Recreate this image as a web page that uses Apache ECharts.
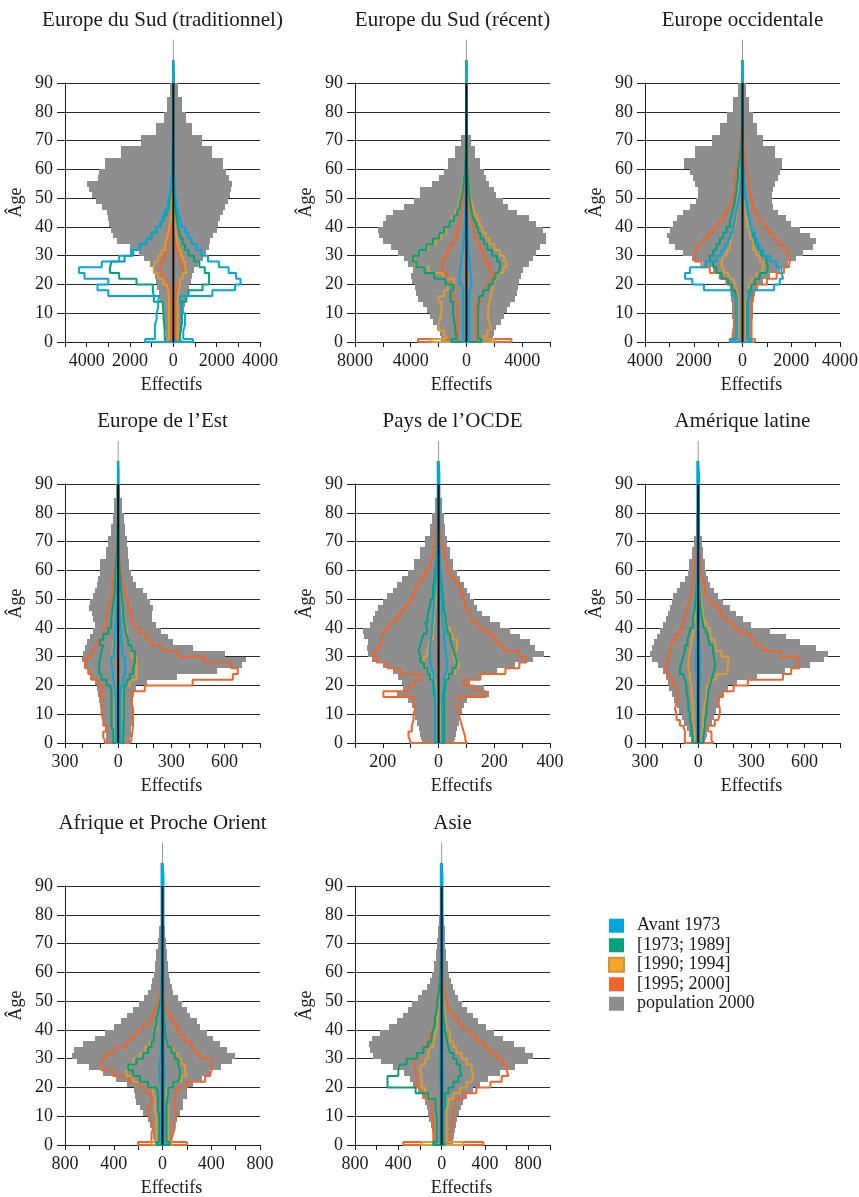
<!DOCTYPE html>
<html><head><meta charset="utf-8">
<script src="https://cdn.jsdelivr.net/npm/echarts@6/dist/echarts.min.js"></script>
<style>html,body{margin:0;padding:0;background:#fff}#c{width:859px;height:1197px}</style>
</head><body><div id="c"></div>
<script>
// ---- age bins (edges, years) ----
const ageEdges = [0,1,2,4,6,8,10,12,14,16,18,20,22,24,26,28,30,32,34,36,38,40,42,44,46,48,50,52,54,56,58,60,64,68,72,76,80,85,90,94,98];

const seriesNames = ['Avant 1973','[1973; 1989]','[1990; 1994]','[1995; 2000]','population 2000'];
const panelTitles = ['Europe du Sud (traditionnel)','Europe du Sud (récent)','Europe occidentale','Europe de l\u2019Est','Pays de l\u2019OCDE','Amérique latine','Afrique et Proche Orient','Asie'];
// x axis: [min, max, tick interval, label every]
const xAxisTicks = [[-5000,4000,1000,2000],[-8000,6000,2000,4000],[-4000,4000,1000,2000],[-300,800,100,300],[-300,400,100,200],[-300,800,100,300],[-800,800,200,400],[-800,1000,200,400]];

// ---- Panel 1 : Europe du Sud (traditionnel) ----
const p1PopL = [300,320,350,380,420,450,480,530,600,660,740,800,850,920,1100,1350,1600,2000,2600,2800,2900,2950,3000,3050,3300,3550,3750,3900,4000,3500,3450,3150,2400,1500,800,450,280,170,60,20];
const p1PopR = [320,330,360,400,430,460,490,540,600,660,740,800,860,950,1150,1350,1500,1650,1700,1850,2000,2050,2150,2300,2400,2500,2600,2650,2700,2550,2450,2300,1800,1300,850,600,420,200,80,20];
const p1AvL = [1300,850,850,850,770,770,700,700,650,3000,3500,3000,4100,4350,3300,2500,1950,1550,1250,1000,780,620,500,400,260,200,150,120,100,80,60,50,40,30,20,15,10,10,10,10];
const p1AvR = [900,460,460,460,540,540,400,380,300,1800,2850,3100,2900,2550,2100,1600,1300,1080,850,690,540,400,320,260,180,150,100,80,60,50,40,30,25,20,15,10,10,10,10,10];
const p1G1L = [380,400,400,420,450,460,480,500,900,950,950,1700,2500,2920,2850,2250,1850,1550,1250,1000,780,600,450,320,220,170,120,90,70,50,40,30,20,10,5,0,0,0,0,0];
const p1G1R = [380,300,300,350,380,380,380,380,600,700,1350,1650,1650,1450,1200,950,700,540,430,330,280,220,180,140,110,90,70,50,40,30,25,20,10,5,0,0,0,0,0,0];
const p1G2L = [300,200,200,200,200,200,200,200,220,250,300,460,700,900,850,700,540,380,300,230,180,120,100,80,60,50,40,30,25,20,20,15,10,10,5,5,0,0,0,0];
const p1G2R = [300,200,200,200,200,200,200,200,200,220,250,300,450,620,550,450,350,250,200,150,120,80,60,50,40,30,25,20,20,15,15,10,10,5,5,0,0,0,0,0];
const p1G3L = [200,130,130,130,130,130,130,130,130,150,180,300,480,600,550,450,350,250,180,150,120,80,60,50,40,30,25,20,15,15,10,10,5,5,0,0,0,0,0,0];
const p1G3R = [200,120,120,120,120,120,120,120,120,140,180,280,400,470,420,330,250,170,130,100,80,50,40,30,25,20,15,15,10,10,10,5,5,0,0,0,0,0,0,0];

// ---- Panel 2 : Europe du Sud (récent) ----
const p2PopL = [1800,1850,1900,2100,2400,2650,2850,3100,3500,3650,3700,3900,3950,3850,4200,4500,4900,5400,6000,6300,6350,6000,5750,5300,4500,3800,3350,3300,2500,2000,1600,1300,800,400,100,50,30,20,10,5];
const p2PopR = [1850,1900,1950,2150,2450,2700,2900,3100,3500,3650,3700,3800,3900,4050,4500,4800,5000,5300,5700,5700,5500,5000,4500,3600,3000,2600,2150,2000,1600,1400,1250,1000,650,350,100,50,30,20,10,5];
const p2AvL = [200,240,240,240,240,240,240,240,240,240,300,480,500,420,360,340,250,200,170,140,120,100,90,80,70,60,50,40,35,30,25,20,15,10,10,10,10,10,10,10];
const p2AvR = [200,190,190,190,190,190,190,190,190,190,250,360,360,300,240,240,160,130,120,100,90,80,70,60,50,45,40,35,30,25,20,15,12,10,10,10,10,10,10,10];
const p2G1L = [1080,720,800,840,900,960,960,960,1150,1150,960,1500,2300,3000,3600,3830,3400,2870,2400,1950,1600,1200,900,650,480,360,290,230,180,140,110,80,50,25,12,6,0,0,0,0];
const p2G1R = [1080,840,840,840,840,840,840,840,900,1200,1600,1900,2100,2300,2400,2200,1850,1500,1250,1000,850,700,550,430,350,290,240,200,160,130,100,70,40,20,10,5,0,0,0,0];
const p2G2L = [2500,1440,1600,2000,1900,1800,1800,1800,2000,1600,1350,900,1700,2700,3700,3830,3350,2750,2200,1800,1450,1200,1000,780,560,450,360,300,230,180,140,100,60,30,15,8,0,0,0,0];
const p2G2R = [2000,1200,1500,1750,1700,1560,1560,1560,1650,1750,1850,1950,2200,2650,2870,2700,2400,2000,1650,1400,1150,960,800,650,530,400,300,240,190,150,120,80,50,30,15,8,0,0,0,0];
const p2G3L = [3470,650,650,650,650,650,650,650,1000,900,900,1150,1400,1700,1800,1600,1350,1150,900,700,580,480,400,330,280,220,170,140,110,90,70,50,30,20,10,5,0,0,0,0];
const p2G3R = [3230,700,700,700,700,700,700,700,1000,1200,1450,1700,1900,1750,1600,1350,1200,1000,850,700,600,480,400,320,270,220,170,140,110,90,70,50,30,20,10,5,0,0,0,0];

// ---- Panel 3 : Europe occidentale ----
const p3PopL = [380,380,380,390,400,420,440,450,460,480,520,660,930,1200,1610,2090,2430,2770,3030,3110,2980,2840,2700,2430,2160,1890,1820,1820,1950,2050,2160,2400,1950,1260,930,640,400,200,60,15];
const p3PopR = [370,370,370,380,400,420,440,440,460,500,570,850,1120,1530,1870,2210,2490,2900,3030,2760,2350,2010,1800,1460,1260,1190,1190,1260,1330,1460,1550,1600,1320,850,600,420,280,150,60,15];
const p3AvL = [480,250,250,250,250,250,250,250,250,450,1580,2060,2360,2150,1500,1070,860,720,590,490,380,320,290,250,180,160,110,100,80,70,60,40,30,20,15,10,10,10,10,10];
const p3AvR = [370,230,230,230,230,230,230,230,230,370,1300,1530,1670,1600,1390,1120,850,710,600,510,410,340,300,250,190,160,120,100,80,60,50,30,25,20,15,10,10,10,10,10];
const p3G1L = [380,250,250,250,250,250,250,250,250,320,450,590,860,1070,1200,1340,1200,1070,930,790,660,520,450,410,330,310,250,250,200,180,180,110,60,30,15,8,0,0,0,0];
const p3G1R = [300,190,190,190,190,190,190,190,190,250,350,510,710,980,1050,980,780,640,550,480,400,330,300,250,190,190,120,120,90,70,70,40,25,12,6,3,0,0,0,0];
const p3G2L = [250,180,180,180,180,180,180,180,180,220,300,380,590,770,860,790,660,520,460,380,350,270,250,230,200,190,140,140,120,110,100,60,35,20,10,5,0,0,0,0];
const p3G2R = [160,140,140,140,140,140,140,140,140,200,270,370,570,780,850,710,570,440,440,300,300,200,200,150,130,130,90,90,70,60,50,30,20,10,5,3,0,0,0,0];
const p3G3L = [520,410,380,340,340,340,310,310,310,380,450,660,930,1340,1680,1950,1890,1820,1610,1410,1200,1000,790,660,520,420,340,340,300,290,280,180,110,60,30,15,5,0,0,0];
const p3G3R = [510,370,370,370,370,370,370,370,370,450,600,1000,1400,1700,1900,1940,1870,1670,1460,1260,1050,850,680,550,450,410,300,300,250,230,230,150,90,50,25,10,5,0,0,0];

// ---- Panel 4 : Europe de l'Est ----
const p4PopL = [66,66,68,72,78,85,94,100,110,115,122,131,160,169,190,206,197,190,178,160,140,130,140,150,163,160,140,130,122,112,105,100,70,56,42,32,22,12,5,2];
const p4PopR = [66,66,70,75,78,80,84,84,84,90,103,160,330,560,700,720,600,420,310,280,244,216,190,190,197,178,160,140,103,84,70,60,53,47,38,30,22,12,5,2];
const p4AvL = [13,13,13,13,13,13,13,13,15,18,20,28,28,35,38,38,25,22,22,20,18,12,12,10,10,8,6,6,5,5,4,3,3,2,2,2,2,2,2,2];
const p4AvR = [13,13,13,13,13,13,13,13,13,14,16,28,28,38,38,38,25,22,20,18,15,12,12,10,10,8,6,6,5,5,4,3,3,2,2,2,2,2,2,2];
const p4G1L = [28,28,28,38,38,38,38,38,38,38,45,66,94,107,107,100,94,84,103,84,56,40,38,35,28,25,19,19,17,15,15,10,6,4,2,1,0,0,0,0];
const p4G1R = [28,28,28,30,30,32,32,32,32,32,35,47,66,84,84,94,94,75,56,56,45,40,32,28,28,25,20,18,15,12,12,8,5,3,2,1,0,0,0,0];
const p4G2L = [19,19,19,19,19,19,19,19,19,19,19,28,28,38,38,38,32,32,25,22,20,15,12,12,10,10,8,8,6,5,5,4,3,2,1,0,0,0,0,0];
const p4G2R = [19,19,19,19,19,19,19,19,19,19,19,66,103,103,103,103,75,75,56,56,50,38,30,25,20,18,15,12,10,8,8,5,3,2,1,0,0,0,0,0];
const p4G3L = [75,84,84,66,84,94,94,94,84,103,84,112,150,169,187,178,150,131,112,84,84,66,66,56,47,47,32,32,28,24,24,13,10,6,4,2,0,0,0,0];
const p4G3R = [66,75,75,80,84,84,84,84,75,75,150,420,647,675,638,490,338,250,190,160,122,94,75,75,56,56,38,38,30,24,20,13,8,5,3,2,0,0,0,0];

// ---- Panel 5 : Pays de l'OCDE ----
const p5PopL = [60,62,66,70,78,84,90,96,108,150,126,130,145,165,200,240,255,257,252,268,270,245,234,228,216,198,186,165,150,132,110,90,66,48,32,22,14,7,3,1];
const p5PopR = [55,58,62,66,72,78,84,90,102,180,162,114,150,210,275,340,377,345,329,293,258,222,186,156,138,126,114,102,90,78,66,50,40,30,24,18,12,6,3,1];
const p5AvL = [12,12,12,12,12,12,12,12,12,12,15,18,18,25,30,30,30,30,28,24,24,22,20,18,16,16,14,12,10,8,8,6,5,4,3,3,3,3,3,3];
const p5AvR = [12,12,12,12,12,12,12,12,12,12,15,18,18,25,30,30,28,25,22,20,20,18,16,14,12,12,10,10,8,7,6,5,4,3,3,3,3,3,3,3];
const p5G1L = [12,12,12,12,12,12,12,12,15,18,18,20,30,40,52,65,72,66,60,54,42,48,40,36,30,28,20,20,16,14,12,8,5,3,2,1,0,0,0,0];
const p5G1R = [20,20,20,20,20,20,20,20,20,20,20,25,36,50,62,66,60,55,48,42,34,30,26,24,20,18,16,14,12,10,8,6,4,2,1,0,0,0,0,0];
const p5G2L = [6,6,6,6,6,6,6,6,8,10,10,12,24,40,50,54,42,36,30,20,20,16,16,14,10,10,8,8,6,5,4,3,2,1,0,0,0,0,0,0];
const p5G2R = [8,8,8,8,8,8,8,8,10,12,12,18,30,60,72,60,54,66,66,50,42,28,24,20,15,12,10,10,8,6,5,4,2,1,0,0,0,0,0,0];
const p5G3L = [102,108,108,96,90,90,84,88,90,198,108,84,60,138,183,222,234,215,204,198,192,174,150,138,120,102,92,84,72,60,48,30,20,12,8,5,3,0,0,0];
const p5G3R = [102,96,96,90,84,78,72,66,72,170,126,90,150,240,290,315,290,234,216,198,168,144,120,114,102,96,90,80,72,54,42,30,20,12,8,5,3,0,0,0];

// ---- Panel 6 : Amérique latine ----
const p6PopL = [38,42,50,62,78,94,110,122,135,150,165,172,183,197,225,258,270,258,250,235,215,197,180,169,160,150,140,122,103,75,60,50,36,24,14,10,6,3,1,1];
const p6PopR = [38,42,50,62,78,90,103,115,125,140,169,220,330,490,630,710,731,666,572,497,403,300,253,216,178,140,113,90,66,56,45,36,26,19,13,9,5,3,1,1];
const p6AvL = [6,6,6,6,6,6,6,6,6,6,6,8,10,12,12,12,10,8,8,6,5,5,5,5,5,5,5,5,5,5,5,5,5,5,5,5,5,5,5,5];
const p6AvR = [6,6,6,6,6,6,6,6,6,6,6,8,10,12,12,12,10,8,8,6,5,5,5,5,5,5,5,5,5,5,5,5,5,5,5,5,5,5,5,5];
const p6G1L = [32,32,38,38,47,47,56,56,60,66,66,75,84,103,94,84,75,75,60,50,43,28,28,20,18,15,12,10,8,6,5,4,3,2,1,0,0,0,0,0];
const p6G1R = [28,28,28,33,38,38,47,47,50,56,56,66,75,84,94,94,88,84,66,56,43,28,26,20,15,12,10,8,6,5,4,3,2,1,0,0,0,0,0,0];
const p6G2L = [19,19,19,24,28,28,28,30,35,38,38,47,47,56,56,50,47,40,38,28,28,20,18,15,12,10,8,6,5,4,3,2,1,0,0,0,0,0,0,0];
const p6G2R = [19,19,19,24,28,28,28,32,40,47,50,66,103,160,169,169,131,103,94,75,66,47,35,28,25,20,15,12,10,8,6,4,2,1,0,0,0,0,0,0];
const p6G3L = [75,75,75,84,103,122,131,122,113,122,122,140,160,178,188,169,160,150,140,122,103,84,75,65,56,45,40,32,28,24,22,16,10,6,4,2,0,0,0,0];
const p6G3R = [84,75,75,56,94,113,122,122,113,140,200,280,478,525,572,563,460,366,319,300,234,197,160,131,113,75,50,40,38,24,24,15,10,6,4,2,0,0,0,0];

// ---- Panel 7 : Afrique et Proche Orient ----
const p7PopL = [63,68,75,85,100,118,159,186,214,227,230,290,380,490,600,700,740,730,650,556,474,400,337,290,241,194,150,118,97,85,73,63,50,36,25,15,8,4,2,1];
const p7PopR = [65,70,80,95,105,115,142,170,170,197,200,250,320,390,480,570,595,526,471,416,362,307,280,225,197,156,129,88,74,60,55,47,33,25,18,12,6,3,1,1];
const p7AvL = [8,8,8,8,8,8,8,8,8,8,10,20,22,25,22,18,15,12,10,8,8,8,8,8,8,8,8,8,8,8,8,8,8,8,8,8,8,8,8,8];
const p7AvR = [8,8,8,8,8,8,8,8,8,8,10,15,15,15,15,12,10,10,8,8,8,8,8,8,8,8,8,8,8,8,8,8,8,8,8,8,8,8,8,8];
const p7G1L = [49,27,27,27,27,27,36,36,36,36,49,118,186,241,280,214,159,118,90,71,63,49,49,35,30,20,15,12,10,8,6,4,3,2,1,0,0,0,0,0];
const p7G1R = [60,33,33,33,33,33,33,33,33,40,47,88,129,142,142,129,101,74,47,35,27,20,20,15,12,10,8,6,5,4,3,2,1,0,0,0,0,0,0,0];
const p7G2L = [90,49,49,49,49,49,63,63,63,77,77,118,241,296,268,241,186,145,104,71,71,44,44,35,30,25,20,15,12,10,8,5,3,2,1,0,0,0,0,0];
const p7G2R = [74,47,47,47,47,47,47,47,40,33,33,88,156,197,184,156,129,88,47,35,30,25,22,18,15,12,10,8,6,5,4,3,2,1,0,0,0,0,0,0];
const p7G3L = [200,90,90,77,90,104,118,110,90,104,131,186,275,405,500,501,460,392,296,255,214,159,104,77,55,40,30,22,16,14,12,8,5,3,2,1,0,0,0,0];
const p7G3R = [200,74,74,88,101,101,115,105,95,100,115,200,350,389,403,403,307,266,238,184,142,115,88,60,33,25,20,15,12,10,8,6,4,2,1,0,0,0,0,0];

// ---- Panel 8 : Asie ----
const p8PopL = [70,75,80,90,100,115,123,138,154,185,223,262,292,346,446,560,630,660,670,640,570,485,415,360,315,270,223,177,138,108,92,70,50,40,31,25,18,9,4,2];
const p8PopR = [100,105,110,120,130,146,160,177,200,230,285,354,430,540,677,800,846,770,670,570,485,408,338,285,238,192,154,123,100,85,70,55,42,31,28,22,15,8,3,1];
const p8AvL = [8,8,8,8,8,8,8,8,8,8,10,12,14,14,14,12,12,10,10,8,8,8,8,8,8,8,8,8,8,8,8,8,8,8,8,8,8,8,8,8];
const p8AvR = [8,8,8,8,8,8,8,8,8,8,10,12,14,14,14,12,12,10,10,8,8,8,8,8,8,8,8,8,8,8,8,8,8,8,8,8,8,8,8,8];
const p8G1L = [77,46,46,46,46,46,55,55,60,120,240,500,500,400,385,323,231,169,123,92,77,62,62,50,40,40,30,25,20,15,12,8,5,3,2,1,0,0,0,0];
const p8G1R = [31,15,15,15,15,15,15,15,31,31,62,108,154,185,169,138,108,77,62,50,40,30,25,20,15,12,10,8,6,5,4,3,2,1,0,0,0,0,0,0];
const p8G2L = [185,52,52,52,52,52,52,52,62,108,154,185,185,200,190,154,123,108,77,62,62,40,40,30,25,20,15,12,10,8,6,4,3,2,1,0,0,0,0,0];
const p8G2R = [200,46,46,46,46,46,46,46,62,108,169,231,277,292,277,231,185,138,108,77,77,46,46,35,30,22,18,14,10,8,6,4,3,2,1,0,0,0,0,0];
const p8G3L = [354,77,77,77,83,83,92,92,100,150,200,231,231,240,250,262,215,169,138,108,92,70,62,50,40,40,30,25,20,15,12,8,5,3,2,1,0,0,0,0];
const p8G3R = [385,77,77,77,92,92,108,108,123,200,320,450,554,615,600,569,508,446,385,323,262,200,154,108,77,60,46,35,25,20,15,10,6,4,2,1,0,0,0,0];

const panelData = [
  {pop:[p1PopL,p1PopR], c:[[p1AvL,p1AvR],[p1G1L,p1G1R],[p1G2L,p1G2R],[p1G3L,p1G3R]]},
  {pop:[p2PopL,p2PopR], c:[[p2AvL,p2AvR],[p2G1L,p2G1R],[p2G2L,p2G2R],[p2G3L,p2G3R]]},
  {pop:[p3PopL,p3PopR], c:[[p3AvL,p3AvR],[p3G1L,p3G1R],[p3G2L,p3G2R],[p3G3L,p3G3R]]},
  {pop:[p4PopL,p4PopR], c:[[p4AvL,p4AvR],[p4G1L,p4G1R],[p4G2L,p4G2R],[p4G3L,p4G3R]]},
  {pop:[p5PopL,p5PopR], c:[[p5AvL,p5AvR],[p5G1L,p5G1R],[p5G2L,p5G2R],[p5G3L,p5G3R]]},
  {pop:[p6PopL,p6PopR], c:[[p6AvL,p6AvR],[p6G1L,p6G1R],[p6G2L,p6G2R],[p6G3L,p6G3R]]},
  {pop:[p7PopL,p7PopR], c:[[p7AvL,p7AvR],[p7G1L,p7G1R],[p7G2L,p7G2R],[p7G3L,p7G3R]]},
  {pop:[p8PopL,p8PopR], c:[[p8AvL,p8AvR],[p8G1L,p8G1R],[p8G2L,p8G2R],[p8G3L,p8G3R]]}
];

// ---- styling / layout ----
const FONT = "'Liberation Serif','Times New Roman',serif";
const TXT = '#1a1a1a';
const COLORS = ['#00a8de','#00a37c','#dc9a34','#ef652b','#8e8e8e'];
const colLeft = [65, 355, 645];
const rowTop = [83, 484, 886];
const GW = 195, GH = 259;

function outline(L, R) {
  const n = ageEdges.length - 1;
  const pts = [[0, ageEdges[0]]];
  for (let i = 0; i < n; i++) { const v = L[i] || 0; pts.push([-v, ageEdges[i]], [-v, ageEdges[i+1]]); }
  pts.push([0, ageEdges[n]]);
  for (let i = n - 1; i >= 0; i--) { const v = R[i] || 0; pts.push([v, ageEdges[i+1]], [v, ageEdges[i]]); }
  pts.push([0, ageEdges[0]]);
  return pts;
}

const grids = [], xAxes = [], yAxes = [], series = [], titles = [];
panelData.forEach((pd, k) => {
  const col = k % 3, row = Math.floor(k / 3);
  const left = colLeft[col], top = rowTop[row];
  grids.push({left: left, top: top, width: GW, height: GH, outerBoundsMode: 'none', containLabel: false});
  titles.push({text: panelTitles[k], left: left + GW / 2, top: top - 73, textAlign: 'center', padding: 0,
    textStyle: {fontFamily: FONT, fontSize: 21, fontWeight: 'normal', color: TXT}});
  const [mn, mx, step, lab] = xAxisTicks[k];
  xAxes.push({gridIndex: k, type: 'value', min: mn, max: mx, interval: step,
    name: 'Effectifs', nameLocation: 'middle', nameGap: 34,
    nameTextStyle: {fontFamily: FONT, fontSize: 18, color: TXT, padding: [0, 0, 0, 18]},
    axisLine: {show: true, onZero: false, lineStyle: {color: TXT, width: 1}},
    axisTick: {show: true, length: 5, lineStyle: {color: TXT, width: 1}},
    axisLabel: {show: true, fontFamily: FONT, fontSize: 18, color: TXT, margin: 10, showMinLabel: true, showMaxLabel: true,
      formatter: v => (Math.round(v) % lab === 0 ? String(Math.abs(Math.round(v))) : '')},
    splitLine: {show: false}});
  yAxes.push({gridIndex: k, type: 'value', min: 0, max: 90, interval: 10,
    name: 'Âge', nameLocation: 'middle', nameGap: 40, nameRotate: 90,
    nameTextStyle: {fontFamily: FONT, fontSize: 18, color: TXT, padding: [0, 0, 0, 20]},
    axisLine: {show: true, onZero: false, lineStyle: {color: TXT, width: 1}},
    axisTick: {show: true, length: 8, lineStyle: {color: TXT, width: 1}},
    axisLabel: {fontFamily: FONT, fontSize: 18, color: TXT, margin: 12},
    splitLine: {show: true, lineStyle: {color: '#2a2a2a', width: 1}}});
  // population 2000 (gray bars)
  series.push({type: 'custom', name: seriesNames[4], xAxisIndex: k, yAxisIndex: k, z: 2, silent: true,
    itemStyle: {color: COLORS[4]},
    data: pd.pop[0].map((l, i) => [ageEdges[i], ageEdges[i+1], l, pd.pop[1][i]]),
    renderItem: (params, api) => {
      const a0 = api.value(0), a1 = api.value(1), l = api.value(2), r = api.value(3);
      const pTL = api.coord([-l, a1]), pBR = api.coord([r, a0]);
      const x0 = Math.round(pTL[0]), y0 = Math.round(pTL[1]);
      const x1 = Math.round(pBR[0]), y1 = Math.round(pBR[1]);
      return {type: 'rect', shape: {x: x0, y: y0, width: Math.max(x1 - x0, 1), height: y1 - y0}, style: {fill: COLORS[4]}};
    }});
  // thin center line above the bars
  series.push({type: 'line', xAxisIndex: k, yAxisIndex: k, z: 1, silent: true, clip: false, showSymbol: false,
    data: [[0, 0], [0, 105]], lineStyle: {color: '#9a9a9a', width: 1}});
  // cohort outlines: draw orange, gold, green, then cyan on top
  [3, 2, 1, 0].forEach((ci, order) => {
    series.push({type: 'line', name: seriesNames[ci], xAxisIndex: k, yAxisIndex: k, z: 3 + order * 0.1,
      clip: false, showSymbol: false, symbol: 'none', silent: true,
      data: outline(pd.c[ci][0], pd.c[ci][1]),
      itemStyle: {color: COLORS[ci]}, lineStyle: {color: COLORS[ci], width: 2}});
  });
  // black center line
  series.push({type: 'line', xAxisIndex: k, yAxisIndex: k, z: 5, silent: true, clip: false, showSymbol: false, symbol: 'none',
    data: [[0, 0], [0, 90]], lineStyle: {color: '#111', width: 2}});
});

const chart = echarts.init(document.getElementById('c'), null, {renderer: 'canvas'});
chart.setOption({
  animation: false,
  backgroundColor: '#fff',
  title: titles,
  grid: grids,
  xAxis: xAxes,
  yAxis: yAxes,
  legend: {orient: 'vertical', left: 608, top: 916, itemWidth: 15, itemHeight: 14, itemGap: 0, padding: 0,
    selectedMode: false,
    textStyle: {fontFamily: FONT, fontSize: 18, color: TXT, lineHeight: 19.5, padding: [0, 0, 0, 8]},
    data: [
      {name: seriesNames[0], icon: 'rect', itemStyle: {color: COLORS[0], borderWidth: 0}},
      {name: seriesNames[1], icon: 'rect', itemStyle: {color: COLORS[1], borderWidth: 0}},
      {name: seriesNames[2], icon: 'rect', itemStyle: {color: '#f4a62a', borderColor: '#cf9438', borderWidth: 2}},
      {name: seriesNames[3], icon: 'rect', itemStyle: {color: COLORS[3], borderWidth: 0}},
      {name: seriesNames[4], icon: 'rect', itemStyle: {color: COLORS[4], borderWidth: 0}}
    ]},
  series: series
});
</script>
</body></html>
